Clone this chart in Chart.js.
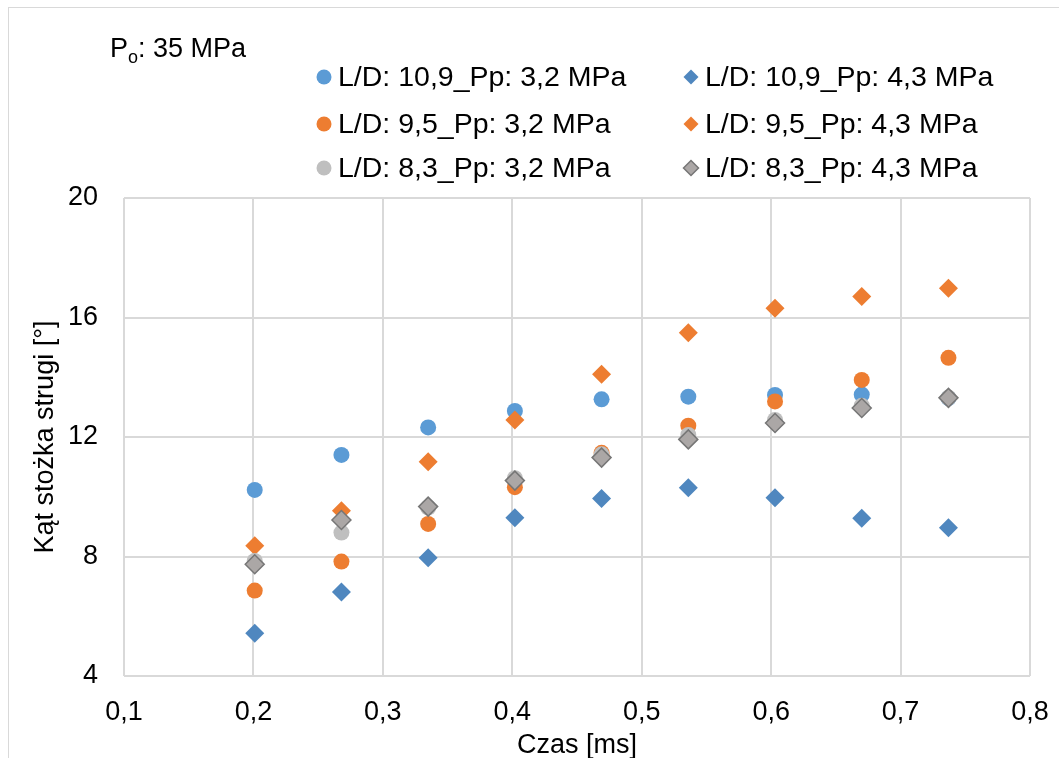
<!DOCTYPE html>
<html>
<head>
<meta charset="utf-8">
<script src="https://cdn.jsdelivr.net/npm/chart.js@4.4.1/dist/chart.umd.min.js"></script>
<style>
  html, body { margin: 0; padding: 0; background: #fff; }
  #wrap { position: relative; width: 1059px; height: 758px; }
</style>
</head>
<body>
<div id="wrap"><canvas id="angle-chart" width="1059" height="758"></canvas></div>
<script>
;(function(){
  // Czas [ms] for each measurement
  const czas = [0.201, 0.268, 0.335, 0.402, 0.469, 0.536, 0.603, 0.670, 0.737]

  // Kąt stożka strugi [°] per series
  const ld109_p32 = [10.23, 11.40, 12.32, 12.87, 13.26, 13.35, 13.41, 13.42, 13.30]
  const ld109_p43 = [5.43, 6.81, 7.96, 9.30, 9.94, 10.30, 9.97, 9.28, 8.96]
  const ld95_p32 = [6.86, 7.83, 9.09, 10.32, 11.47, 12.38, 13.19, 13.91, 14.65]
  const ld95_p43 = [8.36, 9.53, 11.17, 12.57, 14.10, 15.49, 16.31, 16.70, 16.98]
  const ld83_p32 = [7.85, 8.80, 9.64, 10.62, 11.42, 12.07, 12.57, 13.05, 13.32]
  const ld83_p43 = [7.74, 9.22, 9.67, 10.54, 11.31, 11.92, 12.47, 12.97, 13.31]

  const seriesLabels = [
    'L/D: 10,9_Pp: 3,2 MPa', 'L/D: 10,9_Pp: 4,3 MPa',
    'L/D: 9,5_Pp: 3,2 MPa', 'L/D: 9,5_Pp: 4,3 MPa',
    'L/D: 8,3_Pp: 3,2 MPa', 'L/D: 8,3_Pp: 4,3 MPa',
  ]
  const seriesValues = [ld109_p32, ld109_p43, ld95_p32, ld95_p43, ld83_p32, ld83_p43]

  const xTicks = [0.1, 0.2, 0.3, 0.4, 0.5, 0.6, 0.7, 0.8]
  const yTicks = [4, 8, 12, 16, 20]

  const styles = [
    { shape: 'circle', fill: '#5B9BD5', stroke: '#5B9BD5', bw: 0 },
    { shape: 'rectRot', fill: '#4F87BF', stroke: '#4F87BF', bw: 0 },
    { shape: 'circle', fill: '#ED7D31', stroke: '#ED7D31', bw: 0 },
    { shape: 'rectRot', fill: '#ED7D31', stroke: '#ED7D31', bw: 0 },
    { shape: 'circle', fill: '#BFBFBF', stroke: '#BFBFBF', bw: 0 },
    { shape: 'rectRot', fill: '#ABA7A6', stroke: '#767676', bw: 1.5 },
  ]

  const FONT = "'Liberation Sans', Arial, sans-serif"

  const datasets = seriesValues.map((vals, i) => ({
    label: seriesLabels[i],
    data: vals.map((v, j) => ({ x: czas[j], y: v })),
    pointStyle: styles[i].shape,
    pointRadius: styles[i].shape === 'circle' ? 8 : 9.5,
    pointHoverRadius: styles[i].shape === 'circle' ? 8 : 9.5,
    backgroundColor: styles[i].fill,
    borderColor: styles[i].stroke,
    borderWidth: styles[i].bw,
    order: seriesValues.length - i, // later series painted on top, like Excel
  }))

  // frame, Po note and a two-column legend
  const decorations = {
    id: 'decorations',
    beforeDraw(chart) {
      const ctx = chart.ctx
      ctx.save()
      ctx.strokeStyle = '#D9D9D9'
      ctx.lineWidth = 1
      ctx.strokeRect(8.5, 7.5, 1200, 900)
      ctx.restore()
    },
    afterDraw(chart) {
      const ctx = chart.ctx
      ctx.save()
      ctx.fillStyle = '#000'
      ctx.textBaseline = 'alphabetic'
      ctx.font = '27px ' + FONT
      ctx.fillText('P', 110, 57)
      let x = 110 + ctx.measureText('P').width
      ctx.font = '18px ' + FONT
      ctx.fillText('o', x, 63)
      x += ctx.measureText('o').width
      ctx.font = '27px ' + FONT
      ctx.fillText(': 35 MPa', x, 57)

      const markerX = [324, 691]
      const textX = [338, 705]
      const rowY = [77, 124, 168]
      ctx.font = '28.5px ' + FONT
      ctx.textBaseline = 'middle'
      datasets.forEach((ds, i) => {
        const col = i % 2, row = Math.floor(i / 2)
        ctx.fillStyle = ds.backgroundColor
        ctx.strokeStyle = ds.borderColor
        ctx.lineWidth = ds.borderWidth
        Chart.helpers.drawPoint(ctx, {
          pointStyle: ds.pointStyle,
          radius: 7.5,
          borderWidth: ds.borderWidth,
          rotation: 0,
        }, markerX[col], rowY[row])
        ctx.fillStyle = '#000'
        ctx.fillText(ds.label, textX[col], rowY[row] + 1)
      })
      ctx.restore()
    },
  }

  const config = {
    type: 'scatter',
    data: { datasets },
    options: {
      responsive: false,
      animation: false,
      layout: { padding: { top: 198, right: 29, left: 0, bottom: 0 } },
      plugins: {
        legend: { display: false },
        tooltip: { enabled: false },
      },
      scales: {
        x: {
          type: 'linear',
          min: xTicks[0],
          max: xTicks[xTicks.length - 1],
          afterFit(scale) {
            scale.height = 82
            scale.paddingLeft = 0
            scale.paddingRight = 0
          },
          afterBuildTicks(scale) { scale.ticks = xTicks.map(v => ({ value: v })) },
          grid: { color: '#D9D9D9', lineWidth: 2, drawTicks: false },
          border: { display: false },
          ticks: {
            padding: 20,
            color: '#000',
            font: { family: FONT, size: 27 },
            callback: v => (Math.round(v * 10) / 10).toFixed(1).replace('.', ','),
          },
          title: {
            display: true,
            text: 'Czas [ms]',
            color: '#000',
            font: { family: FONT, size: 27, lineHeight: 0.95 },
            padding: { top: 0, bottom: 0 },
          },
        },
        y: {
          min: yTicks[0],
          max: yTicks[yTicks.length - 1],
          afterFit(scale) {
            scale.width = 124
            scale.paddingTop = 0
            scale.paddingBottom = 0
          },
          afterBuildTicks(scale) { scale.ticks = yTicks.map(v => ({ value: v })) },
          grid: { color: '#D9D9D9', lineWidth: 2, drawTicks: false },
          border: { display: false },
          ticks: {
            padding: 26,
            color: '#000',
            font: { family: FONT, size: 27 },
            callback: v => String(v),
          },
          title: {
            display: true,
            text: 'Kąt stożka strugi [°]',
            color: '#000',
            font: { family: FONT, size: 27 },
            padding: { top: 29, bottom: 0 },
          },
        },
      },
    },
    plugins: [decorations],
  }

  const ctx = document.getElementById('angle-chart')
  let chart = new Chart(ctx, config)
})()
</script>
</body>
</html>
